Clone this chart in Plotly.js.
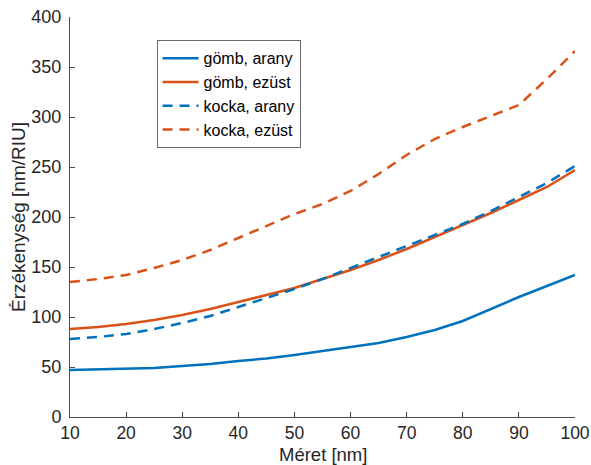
<!DOCTYPE html>
<html>
<head>
<meta charset="utf-8">
<script src="https://cdn.plot.ly/plotly-3.0.1.min.js"></script>
<style>html,body{margin:0;padding:0;background:#fff;}#chart{width:591px;height:465px;}</style>
</head>
<body>
<div id="chart"></div>
<script>
const meret = [10, 15, 20, 25, 30, 35, 40, 45, 50, 55, 60, 65, 70, 75, 80, 85, 90, 95, 100];
const gombArany = [47, 47.5, 48, 49, 51, 53, 56, 58.5, 62, 66, 70, 74, 80, 87, 96, 108, 120, 131, 142];
const gombEzust = [88, 90, 93, 97, 102, 108, 115, 122, 129, 138, 147, 157, 168, 180, 192, 204, 217, 230, 247];
const kockaArany = [78, 80, 83, 88, 94, 101, 110, 119, 128, 138, 149, 160, 171, 182, 193, 206, 220, 234, 251];
const kockaEzust = [135, 138, 142, 149, 157, 167, 179, 191, 203, 213, 226, 243, 262, 278, 290, 301, 312, 338, 366];
const seriesNames = ["gömb, arany", "gömb, ezüst", "kocka, arany", "kocka, ezüst"];
const xTicks = [10, 20, 30, 40, 50, 60, 70, 80, 90, 100];
const yTicks = [0, 50, 100, 150, 200, 250, 300, 350, 400];
const xTitle = "Méret [nm]";
const yTitle = "Érzékenység [nm/RIU]";

const blue = "#0072BD", orange = "#D95319";
const font = "Liberation Sans, Arial, sans-serif";
const dashPat = "10px,7px";

const traces = [
  {x: meret, y: gombArany, name: seriesNames[0], mode: "lines", line: {color: blue, width: 2.5}},
  {x: meret, y: gombEzust, name: seriesNames[1], mode: "lines", line: {color: orange, width: 2.5}},
  {x: meret, y: kockaArany, name: seriesNames[2], mode: "lines", line: {color: blue, width: 2.5, dash: dashPat}},
  {x: meret, y: kockaEzust, name: seriesNames[3], mode: "lines", line: {color: orange, width: 2.5, dash: dashPat}}
];

const layout = {
  width: 591, height: 465,
  margin: {l: 70, r: 16, t: 17, b: 48},
  paper_bgcolor: "#fff", plot_bgcolor: "#fff",
  font: {family: font, color: "#262626", size: 18},
  showlegend: true,
  legend: {
    x: 0.172, y: 0.941, xanchor: "left", yanchor: "top",
    bgcolor: "#fff", bordercolor: "#262626", borderwidth: 0.7,
    font: {family: font, size: 16, color: "#000"},
    tracegroupgap: 0, itemwidth: 36
  },
  xaxis: {
    range: [10, 100], tickvals: xTicks, ticks: "inside", ticklen: 5,
    tickcolor: "#4d4d4d", showline: true, linecolor: "#4d4d4d", linewidth: 1,
    showgrid: false, zeroline: false, tickfont: {size: 17.5, color: "#262626"},
    ticklabelstandoff: 0, automargin: false
  },
  yaxis: {
    range: [0, 400], tickvals: yTicks, ticks: "inside", ticklen: 5,
    tickcolor: "#4d4d4d", showline: true, linecolor: "#4d4d4d", linewidth: 1,
    showgrid: false, zeroline: false, tickfont: {size: 18, color: "#262626"},
    ticklabelstandoff: 4, automargin: false,
    title: {text: yTitle, font: {size: 19, color: "#262626"}, standoff: 0}
  },
  annotations: [{
    text: xTitle, xref: "paper", yref: "paper", x: 0.5, y: -0.0925,
    xanchor: "center", yanchor: "middle", showarrow: false,
    font: {family: font, size: 18.5, color: "#262626"}
  }]
};

Plotly.newPlot("chart", traces, layout, {staticPlot: true, displayModeBar: false});
</script>
</body>
</html>
